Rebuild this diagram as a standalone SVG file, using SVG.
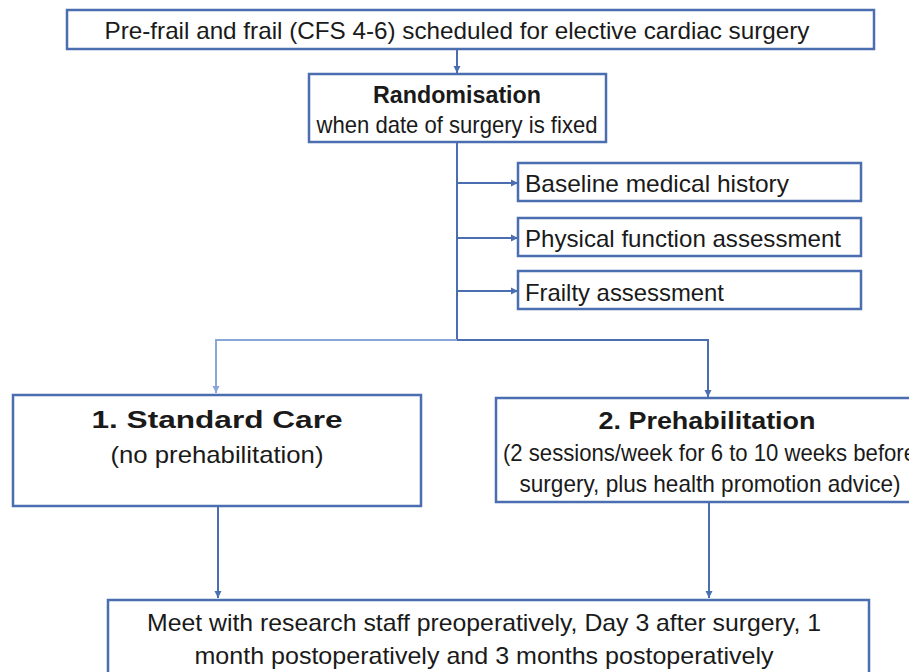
<svg xmlns="http://www.w3.org/2000/svg" width="909" height="672" viewBox="0 0 909 672">
<defs>
<marker id="ah" markerWidth="8" markerHeight="8" refX="7" refY="4" orient="auto" markerUnits="userSpaceOnUse">
<path d="M0,0.5 L7,4 L0,7.5 Z" fill="#4a6eb0"/>
</marker>
<marker id="ahl" markerWidth="8" markerHeight="8" refX="7" refY="4" orient="auto" markerUnits="userSpaceOnUse">
<path d="M0,0.5 L7,4 L0,7.5 Z" fill="#8aa6d6"/>
</marker>
</defs>
<style>
.box{fill:#fff;stroke:#4a6eb0;stroke-width:2.5}
.t{font-family:"Liberation Sans",Arial,sans-serif;fill:#1a1a1a;font-size:24px}
.b{font-weight:bold}
.c{stroke:#4a6eb0;stroke-width:2;fill:none}
.cl{stroke:#8aa6d6;stroke-width:2;fill:none}
</style>
<rect width="909" height="672" fill="#fff"/>
<g id="connectors">
<line class="c" x1="457" y1="49" x2="457" y2="73" marker-end="url(#ah)"/>
<line class="c" x1="457" y1="142" x2="457" y2="340"/>
<line class="c" x1="457" y1="183" x2="518" y2="183" marker-end="url(#ah)"/>
<line class="c" x1="457" y1="238" x2="518" y2="238" marker-end="url(#ah)"/>
<line class="c" x1="457" y1="291" x2="518" y2="291" marker-end="url(#ah)"/>
<polyline class="cl" points="457,340 216,340 216,393" marker-end="url(#ahl)"/>
<polyline class="c" points="457,340 708,340 708,397" marker-end="url(#ah)"/>
<line class="c" x1="218" y1="506" x2="218" y2="598" marker-end="url(#ah)"/>
<line class="c" x1="709" y1="502" x2="709" y2="598" marker-end="url(#ah)"/>
</g>
<g id="top">
<rect class="box" x="67" y="10" width="807" height="39"/>
<text class="t" x="457" y="39" font-size="26" text-anchor="middle" textLength="705" lengthAdjust="spacingAndGlyphs">Pre-frail and frail (CFS 4-6) scheduled for elective cardiac surgery</text>
</g>
<g id="randomisation">
<rect class="box" x="309" y="74" width="297" height="68"/>
<text class="t b" x="457" y="103" text-anchor="middle" textLength="168" lengthAdjust="spacingAndGlyphs">Randomisation</text>
<text class="t" x="457" y="133" font-size="22" text-anchor="middle" textLength="281" lengthAdjust="spacingAndGlyphs">when date of surgery is fixed</text>
</g>
<g id="baseline">
<rect class="box" x="518" y="163" width="343" height="38"/>
<text class="t" x="525" y="192" textLength="264" lengthAdjust="spacingAndGlyphs">Baseline medical history</text>
</g>
<g id="physical">
<rect class="box" x="518" y="218" width="343" height="38"/>
<text class="t" x="525" y="247" textLength="316" lengthAdjust="spacingAndGlyphs">Physical function assessment</text>
</g>
<g id="frailty">
<rect class="box" x="518" y="271" width="343" height="38"/>
<text class="t" x="525" y="301" textLength="199" lengthAdjust="spacingAndGlyphs">Frailty assessment</text>
</g>
<g id="standard">
<rect class="box" x="13" y="395" width="408" height="111"/>
<text class="t b" x="217" y="428" font-size="30" text-anchor="middle" textLength="251" lengthAdjust="spacingAndGlyphs">1. Standard Care</text>
<text class="t" x="217" y="463" text-anchor="middle" textLength="213" lengthAdjust="spacingAndGlyphs">(no prehabilitation)</text>
</g>
<g id="prehab">
<rect class="box" x="496" y="398" width="420" height="104"/>
<text class="t b" x="707" y="429" font-size="30" text-anchor="middle" textLength="217" lengthAdjust="spacingAndGlyphs">2. Prehabilitation</text>
<text class="t" x="503" y="461" textLength="413" lengthAdjust="spacingAndGlyphs">(2 sessions/week for 6 to 10 weeks before</text>
<text class="t" x="710" y="492" text-anchor="middle" textLength="381" lengthAdjust="spacingAndGlyphs">surgery, plus health promotion advice)</text>
</g>
<g id="followup">
<rect class="box" x="108" y="600" width="761" height="80"/>
<text class="t" x="484" y="631" text-anchor="middle" textLength="674" lengthAdjust="spacingAndGlyphs">Meet with research staff preoperatively, Day 3 after surgery, 1</text>
<text class="t" x="484" y="664" text-anchor="middle" textLength="579" lengthAdjust="spacingAndGlyphs">month postoperatively and 3 months postoperatively</text>
</g>
</svg>
